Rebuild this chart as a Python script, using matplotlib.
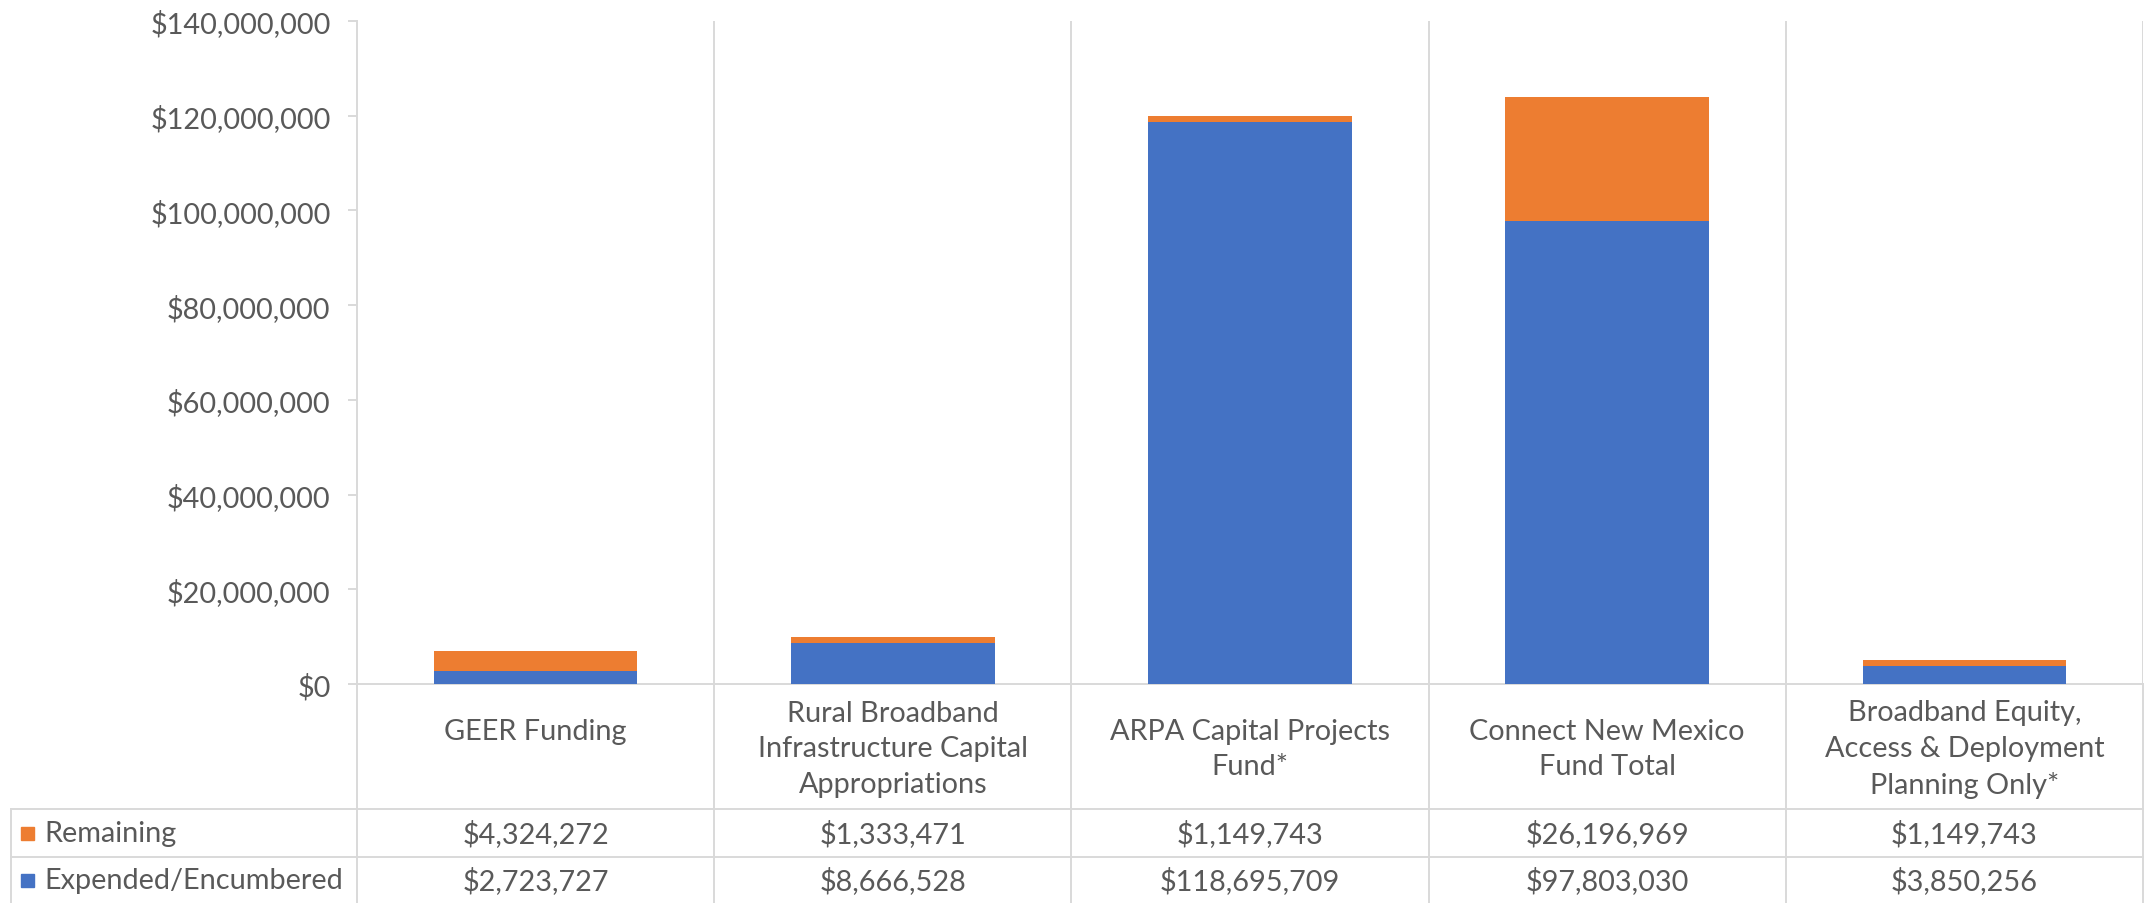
import matplotlib
matplotlib.use("Agg")
import matplotlib.pyplot as plt
from matplotlib.ticker import FuncFormatter
from matplotlib.patches import Rectangle

categories = [
    "GEER Funding\n ",
    "Rural Broadband\nInfrastructure Capital\nAppropriations",
    "ARPA Capital Projects\nFund*",
    "Connect New Mexico\nFund Total",
    "Broadband Equity,\nAccess & Deployment\nPlanning Only*",
]
series_names = ["Remaining", "Expended/Encumbered"]
remaining = [4324272, 1333471, 1149743, 26196969, 1149743]
expended = [2723727, 8666528, 118695709, 97803030, 3850256]
yticks = [0, 20e6, 40e6, 60e6, 80e6, 100e6, 120e6, 140e6]

BLUE = "#4472C4"
ORANGE = "#ED7D31"
TEXT = "#595959"
GRID = "#D9D9D9"
FONT = "Lato"
FS = 20.8

W, H = 2145, 904
fig = plt.figure(figsize=(W / 100, H / 100), dpi=100)
plt.rcParams["font.family"] = [FONT, "DejaVu Sans"]

ax_left, ax_right = 357, 2143
y0_px, ytop_px = 685, 22  # from top
ax = fig.add_axes([ax_left / W, (H - y0_px) / H, (ax_right - ax_left) / W, (y0_px - ytop_px) / H])

n = len(categories)
x = list(range(n))
ax.bar(x, expended, width=0.57, color=BLUE, zorder=3)
ax.bar(x, remaining, width=0.57, bottom=expended, color=ORANGE, zorder=3)
ax.set_xlim(-0.5, n - 0.5)
ax.set_ylim(0, 140e6)
ax.set_yticks(yticks)
ax.yaxis.set_major_formatter(FuncFormatter(lambda v, p: f"${v:,.0f}"))
ax.tick_params(axis="y", length=6.5, width=1.4, color=GRID, pad=12.5, labelsize=FS, labelcolor=TEXT)
ax.tick_params(axis="x", length=0, labelbottom=False)
for s in ["top", "right"]:
    ax.spines[s].set_visible(False)
for s in ["left", "bottom"]:
    ax.spines[s].set_color(GRID)
    ax.spines[s].set_linewidth(1.4)
for b in range(1, n):
    ax.axvline(b - 0.5, color=GRID, lw=1.4, zorder=1)
ax.axvline(n - 0.5, color=GRID, lw=1.4, zorder=1)

# data table below
tab = fig.add_axes([ax_left / W, 0, (ax_right - ax_left) / W, (H - y0_px) / H])
tab.set_xlim(-0.5, n - 0.5)
tab.set_ylim(0, H - y0_px)  # pixel units from bottom
tab.axis("off")
row_exp = (0, 46)
row_rem = (46, 94)
header = (94, H - y0_px)
px_per_cat = (ax_right - ax_left) / n
x_tab_left = -0.5 - (ax_left - 11) / px_per_cat

lc = dict(color=GRID, lw=1.4, clip_on=False)
for yv in [row_rem[1], row_exp[1]]:
    tab.plot([x_tab_left, n - 0.5], [yv, yv], **lc)
tab.plot([x_tab_left, x_tab_left], [0, row_rem[1]], **lc)
for b in range(0, n + 1):
    tab.plot([b - 0.5, b - 0.5], [0, H - y0_px], **lc)

for i, c in enumerate(categories):
    tab.text(i, (header[0] + header[1]) / 2 - 2, c, ha="center", va="center",
             fontsize=FS, color=TEXT, linespacing=1.45)
    tab.text(i, sum(row_rem) / 2, f"${remaining[i]:,}", ha="center", va="center",
             fontsize=FS, color=TEXT)
    tab.text(i, sum(row_exp) / 2, f"${expended[i]:,}", ha="center", va="center",
             fontsize=FS, color=TEXT)

sq = 13 / px_per_cat
for name, col, row in [(series_names[0], ORANGE, row_rem), (series_names[1], BLUE, row_exp)]:
    cy = sum(row) / 2
    tab.add_patch(Rectangle((x_tab_left + 10 / px_per_cat, cy - 6.5), sq, 13,
                            color=col, clip_on=False))
    tab.text(x_tab_left + 33 / px_per_cat, cy, name, ha="left", va="center",
             fontsize=FS, color=TEXT, clip_on=False)

fig.savefig("out.png", dpi=100, facecolor="white")
